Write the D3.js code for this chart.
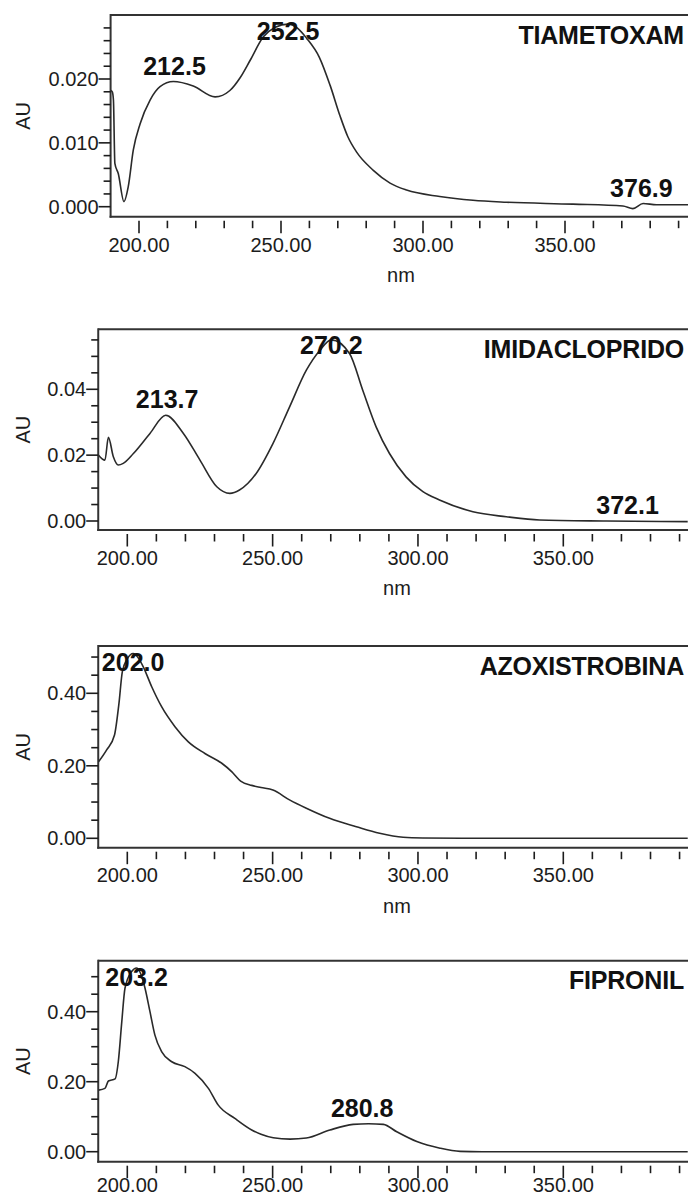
<!DOCTYPE html>
<html>
<head>
<meta charset="utf-8">
<script src="https://cdn.jsdelivr.net/npm/d3@7"></script>
<style>
  html, body { margin: 0; padding: 0; background: #fff; }
  svg { display: block; font-family: "Liberation Sans", Arial, sans-serif; }
</style>
</head>
<body>
<svg id="chart" width="688" height="1197"></svg>
<script>
// ---------------- DATA ----------------
const compoundNames = ["TIAMETOXAM", "IMIDACLOPRIDO", "AZOXISTROBINA", "FIPRONIL"];

// TIAMETOXAM spectrum
const tiaNm = [190.1, 190.6, 191.0, 191.5, 192.7, 194.7, 196.2, 198.0, 200.4, 203.9, 207.4, 212.1, 219.1, 226.8, 232.0, 235.6, 239.1, 243.8, 248.0, 252.5, 256.0, 259.0, 263.5, 267.3, 270.8, 273.5, 276.7, 282.5, 288.4, 294.2, 305.9, 317.6, 329.4, 352.8, 370.4, 373.9, 377.5, 382.2, 393.3];
const tiaAU = [0.0182, 0.0180, 0.0167, 0.0068, 0.0052, 0.0008, 0.0031, 0.0089, 0.0130, 0.0167, 0.0188, 0.0196, 0.0189, 0.0172, 0.0182, 0.0202, 0.0229, 0.0266, 0.0281, 0.0286, 0.0279, 0.0264, 0.0234, 0.0190, 0.0142, 0.0110, 0.0085, 0.0057, 0.0037, 0.0026, 0.0016, 0.0010, 0.0007, 0.0004, 0.0001, -0.0003, 0.0005, 0.0003, 0.0003];

// IMIDACLOPRIDO spectrum
const imiNm = [190.1, 192.3, 193.5, 195.2, 196.9, 198.6, 202.1, 207.8, 213.2, 219.3, 225.0, 230.8, 235.3, 238.6, 244.4, 250.1, 255.8, 261.6, 266.2, 270.2, 276.5, 281.0, 285.6, 290.2, 295.9, 301.7, 307.4, 318.9, 330.4, 341.8, 364.8, 392.8];
const imiAU = [0.0200, 0.0185, 0.0254, 0.0195, 0.0170, 0.0175, 0.0205, 0.0266, 0.0321, 0.0266, 0.0185, 0.0104, 0.0084, 0.0094, 0.0145, 0.0235, 0.0346, 0.0458, 0.0518, 0.0550, 0.0508, 0.0397, 0.0286, 0.0205, 0.0134, 0.0089, 0.0064, 0.0028, 0.0013, 0.0003, 0.0000, -0.0002];

// AZOXISTROBINA spectrum
const azoNm = [190.1, 192.9, 195.6, 197.1, 198.3, 200.0, 202.0, 204.0, 205.5, 208.4, 211.8, 216.4, 221.0, 226.7, 232.5, 235.9, 239.0, 242.8, 246.0, 250.1, 255.8, 261.6, 269.6, 278.8, 286.8, 294.9, 301.7, 320.0, 350.0, 392.8];
const azoAU = [0.211, 0.244, 0.285, 0.370, 0.460, 0.495, 0.510, 0.495, 0.473, 0.418, 0.363, 0.308, 0.266, 0.234, 0.207, 0.184, 0.158, 0.146, 0.140, 0.133, 0.106, 0.083, 0.055, 0.032, 0.014, 0.003, 0.001, 0.000, 0.000, 0.000];

// FIPRONIL spectrum
const fipNm = [190.1, 192.3, 193.5, 195.8, 196.9, 198.1, 199.2, 201.5, 203.2, 205.0, 206.1, 207.8, 209.5, 211.8, 215.3, 219.8, 223.3, 227.9, 231.3, 237.0, 242.8, 246.0, 250.2, 256.0, 261.6, 269.7, 277.7, 283.0, 288.1, 292.7, 299.6, 307.6, 314.5, 322.0, 392.8];
const fipAU = [0.176, 0.181, 0.202, 0.208, 0.257, 0.371, 0.467, 0.515, 0.525, 0.500, 0.467, 0.400, 0.333, 0.286, 0.257, 0.243, 0.224, 0.181, 0.133, 0.095, 0.062, 0.050, 0.040, 0.036, 0.039, 0.062, 0.078, 0.080, 0.078, 0.057, 0.029, 0.010, 0.001, 0.000, 0.000];

// Peak annotations (wavelength label, absorbance at peak)
const tiaPeakNm = [212.5, 252.5, 376.9];
const tiaPeakAU = [0.0196, 0.0286, 0.0004];
const imiPeakNm = [213.7, 270.2, 372.1];
const imiPeakAU = [0.0321, 0.0550, 0.0000];
const azoPeakNm = [202.0];
const azoPeakAU = [0.510];
const fipPeakNm = [203.2, 280.8];
const fipPeakAU = [0.525, 0.079];

// Axis ticks
const xMajorTicks = [200, 250, 300, 350];
const xMajorLabels = ["200.00", "250.00", "300.00", "350.00"];
const xMinorTicks = [210, 220, 230, 240, 260, 270, 280, 290, 310, 320, 330, 340, 360, 370, 380, 390];

const tiaYMajor = [0, 0.01, 0.02];
const tiaYLabels = ["0.000", "0.010", "0.020"];
const tiaYMinor = [0.002, 0.004, 0.006, 0.008, 0.012, 0.014, 0.016, 0.018, 0.022, 0.024, 0.026, 0.028];

const imiYMajor = [0, 0.02, 0.04];
const imiYLabels = ["0.00", "0.02", "0.04"];
const imiYMinor = [0.005, 0.01, 0.015, 0.025, 0.03, 0.035, 0.045, 0.05, 0.055];

const azoYMajor = [0, 0.2, 0.4];
const azoYLabels = ["0.00", "0.20", "0.40"];
const azoYMinor = [0.05, 0.1, 0.15, 0.25, 0.3, 0.35, 0.45, 0.5];

const fipYMajor = [0, 0.2, 0.4];
const fipYLabels = ["0.00", "0.20", "0.40"];
const fipYMinor = [0.05, 0.1, 0.15, 0.25, 0.3, 0.35, 0.45, 0.5];

const xTitle = "nm";
const yTitle = "AU";

// ---------------- LAYOUT ----------------
const panels = [
  { name: compoundNames[0], nm: tiaNm, au: tiaAU, pkNm: tiaPeakNm, pkAU: tiaPeakAU,
    yMajor: tiaYMajor, yLabels: tiaYLabels, yMinor: tiaYMinor,
    top: 15, bottom: 216.7, xr: [139, 565], yd: [0, 0.02], yr: [206.7, 79], nmX: 401, showNm: true, xlabOff: 35 },
  { name: compoundNames[1], nm: imiNm, au: imiAU, pkNm: imiPeakNm, pkAU: imiPeakAU,
    yMajor: imiYMajor, yLabels: imiYLabels, yMinor: imiYMinor,
    top: 329.3, bottom: 530, xr: [127.3, 563.3], yd: [0, 0.04], yr: [521, 389.3], nmX: 397, showNm: true, xlabOff: 34.5 },
  { name: compoundNames[2], nm: azoNm, au: azoAU, pkNm: azoPeakNm, pkAU: azoPeakAU,
    yMajor: azoYMajor, yLabels: azoYLabels, yMinor: azoYMinor,
    top: 646, bottom: 847.7, xr: [127.3, 563.3], yd: [0, 0.4], yr: [838.3, 693.3], nmX: 397, showNm: true, xlabOff: 34.5 },
  { name: compoundNames[3], nm: fipNm, au: fipAU, pkNm: fipPeakNm, pkAU: fipPeakAU,
    yMajor: fipYMajor, yLabels: fipYLabels, yMinor: fipYMinor,
    top: 960.7, bottom: 1161.7, xr: [127.3, 563.3], yd: [0, 0.4], yr: [1151.7, 1011.7], nmX: 397, showNm: false, xlabOff: 30.5 }
];

const svg = d3.select("#chart");
const ink = "#1c1c1c";

panels.forEach(p => {
  const x = d3.scaleLinear().domain([200, 350]).range(p.xr);
  const y = d3.scaleLinear().domain(p.yd).range(p.yr);
  const left = x(190);
  const right = x(400);
  const g = svg.append("g");

  // frame: top, left, bottom
  g.append("line").attr("x1", left).attr("x2", right).attr("y1", p.top).attr("y2", p.top)
    .attr("stroke", "#333").attr("stroke-width", 2);
  g.append("line").attr("x1", left).attr("x2", left).attr("y1", p.top - 1).attr("y2", p.bottom + 1)
    .attr("stroke", "#333").attr("stroke-width", 2);
  g.append("line").attr("x1", left - 1).attr("x2", right).attr("y1", p.bottom).attr("y2", p.bottom)
    .attr("stroke", "#333").attr("stroke-width", 2);

  // x ticks
  g.selectAll(".xmaj").data(xMajorTicks).enter().append("line")
    .attr("x1", d => x(d)).attr("x2", d => x(d))
    .attr("y1", p.bottom + 4).attr("y2", p.bottom + 16.5)
    .attr("stroke", ink).attr("stroke-width", 1.6);
  g.selectAll(".xmin").data(xMinorTicks).enter().append("line")
    .attr("x1", d => x(d)).attr("x2", d => x(d))
    .attr("y1", p.bottom + 4).attr("y2", p.bottom + 11.5)
    .attr("stroke", ink).attr("stroke-width", 1.6);
  g.selectAll(".xlab").data(xMajorTicks).enter().append("text")
    .attr("x", d => x(d)).attr("y", p.bottom + p.xlabOff)
    .attr("text-anchor", "middle").attr("font-size", 20).attr("fill", ink)
    .text((d, i) => xMajorLabels[i]);

  // y ticks
  g.selectAll(".ymaj").data(p.yMajor).enter().append("line")
    .attr("x1", left - 12).attr("x2", left)
    .attr("y1", d => y(d)).attr("y2", d => y(d))
    .attr("stroke", ink).attr("stroke-width", 1.6);
  g.selectAll(".ymin").data(p.yMinor).enter().append("line")
    .attr("x1", left - 7).attr("x2", left)
    .attr("y1", d => y(d)).attr("y2", d => y(d))
    .attr("stroke", ink).attr("stroke-width", 1.6);
  g.selectAll(".ylab").data(p.yMajor).enter().append("text")
    .attr("x", left - 12).attr("y", d => y(d) + 7)
    .attr("text-anchor", "end").attr("font-size", 20).attr("fill", ink)
    .text((d, i) => p.yLabels[i]);

  // axis titles
  g.append("text")
    .attr("transform", `translate(22.5,${(p.top + p.bottom) / 2}) rotate(-90)`)
    .attr("text-anchor", "middle").attr("dy", "0.35em")
    .attr("font-size", 20).attr("fill", ink).text(yTitle);
  if (p.showNm) {
    g.append("text").attr("x", p.nmX).attr("y", p.bottom + 65)
      .attr("text-anchor", "middle").attr("font-size", 20).attr("fill", ink).text(xTitle);
  }

  // spectrum curve
  const pts = p.nm.map((n, i) => [n, p.au[i]]);
  const line = d3.line().x(d => x(d[0])).y(d => y(d[1])).curve(d3.curveMonotoneX);
  g.append("path").attr("d", line(pts))
    .attr("fill", "none").attr("stroke", "#2a2a2a").attr("stroke-width", 1.6)
    .attr("stroke-linejoin", "round");

  // peak labels
  g.selectAll(".pk").data(p.pkNm).enter().append("text")
    .attr("x", d => x(d))
    .attr("y", (d, i) => Math.max(y(p.pkAU[i]) - 7, p.top + 25))
    .attr("text-anchor", "middle").attr("font-size", 25).attr("font-weight", "bold")
    .attr("fill", "#111")
    .text(d => d.toFixed(1));

  // compound name
  g.append("text").attr("x", 684).attr("y", p.top + 28.5)
    .attr("text-anchor", "end").attr("font-size", 25).attr("font-weight", "bold")
    .attr("letter-spacing", -0.2).attr("fill", "#111")
    .text(p.name);
});
</script>
</body>
</html>
